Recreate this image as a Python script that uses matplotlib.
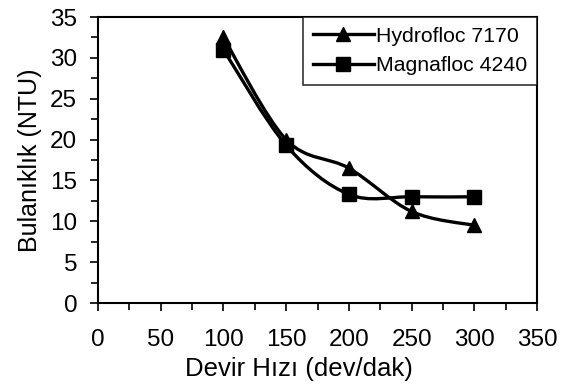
import matplotlib
matplotlib.use('Agg')
import matplotlib.pyplot as plt
from matplotlib.path import Path
from matplotlib.patches import PathPatch
from matplotlib.lines import Line2D
from matplotlib.ticker import MultipleLocator

plt.rcParams['font.family'] = ['Liberation Sans', 'DejaVu Sans']

# %% Data
speed = [100, 150, 200, 250, 300]
hydrofloc = [32.5, 20.0, 16.5, 11.2, 9.5]
magnafloc = [31.0, 19.3, 13.3, 13.0, 13.0]
labels = ['Hydrofloc 7170', 'Magnafloc 4240']


def smooth_path(xs, ys):
    # Excel-style smoothed line: cubic bezier through the points
    pts = list(zip(xs, ys))
    verts = [pts[0]]
    codes = [Path.MOVETO]
    n = len(pts)
    for i in range(n - 1):
        p0 = pts[max(i - 1, 0)]
        p1 = pts[i]
        p2 = pts[i + 1]
        p3 = pts[min(i + 2, n - 1)]
        c1 = (p1[0] + (p2[0] - p0[0]) / 6, p1[1] + (p2[1] - p0[1]) / 6)
        c2 = (p2[0] - (p3[0] - p1[0]) / 6, p2[1] - (p3[1] - p1[1]) / 6)
        verts += [c1, c2, p2]
        codes += [Path.CURVE4] * 3
    return Path(verts, codes)


# %% Plot
fig = plt.figure(figsize=(5.67, 3.86), dpi=100)
ax = fig.add_axes([98 / 567, 1 - 303 / 386, 439 / 567, 286 / 386])

for ys, marker in [(hydrofloc, '^'), (magnafloc, 's')]:
    ax.add_patch(PathPatch(smooth_path(speed, ys), fill=False, lw=2.4,
                           edgecolor='black', zorder=2))
    ax.plot(speed, ys, linestyle='none', marker=marker, markersize=10,
            color='black', zorder=3)

ax.set_xlim(0, 350)
ax.set_ylim(0, 35)
ax.xaxis.set_major_locator(MultipleLocator(50))
ax.xaxis.set_minor_locator(MultipleLocator(25))
ax.yaxis.set_major_locator(MultipleLocator(5))
ax.yaxis.set_minor_locator(MultipleLocator(2.5))
ax.tick_params(which='both', direction='out', color='black', width=1.2)
ax.tick_params(which='major', length=6, labelsize=17.5)
ax.tick_params(axis='x', which='major', pad=13)
ax.tick_params(axis='y', which='major', pad=9)
ax.tick_params(which='minor', length=5)
for s in ax.spines.values():
    s.set_linewidth(1.5)
ax.set_xlabel('Devir Hızı (dev/dak)', fontsize=18.5)
ax.xaxis.set_label_coords(0.458, -0.19)
ax.set_ylabel('Bulanıklık (NTU)', fontsize=18, labelpad=6)

handles = [Line2D([], [], color='black', lw=2.4, marker=m, markersize=10)
           for m in ['^', 's']]
leg = ax.legend(handles, labels, loc='upper right', fontsize=15.3,
                frameon=True, fancybox=False, edgecolor='black',
                borderaxespad=0, handlelength=2.9, handletextpad=0.1,
                borderpad=0.45, labelspacing=0.5)
leg.get_frame().set_linewidth(1.2)

fig.savefig('out.png', dpi=100)
